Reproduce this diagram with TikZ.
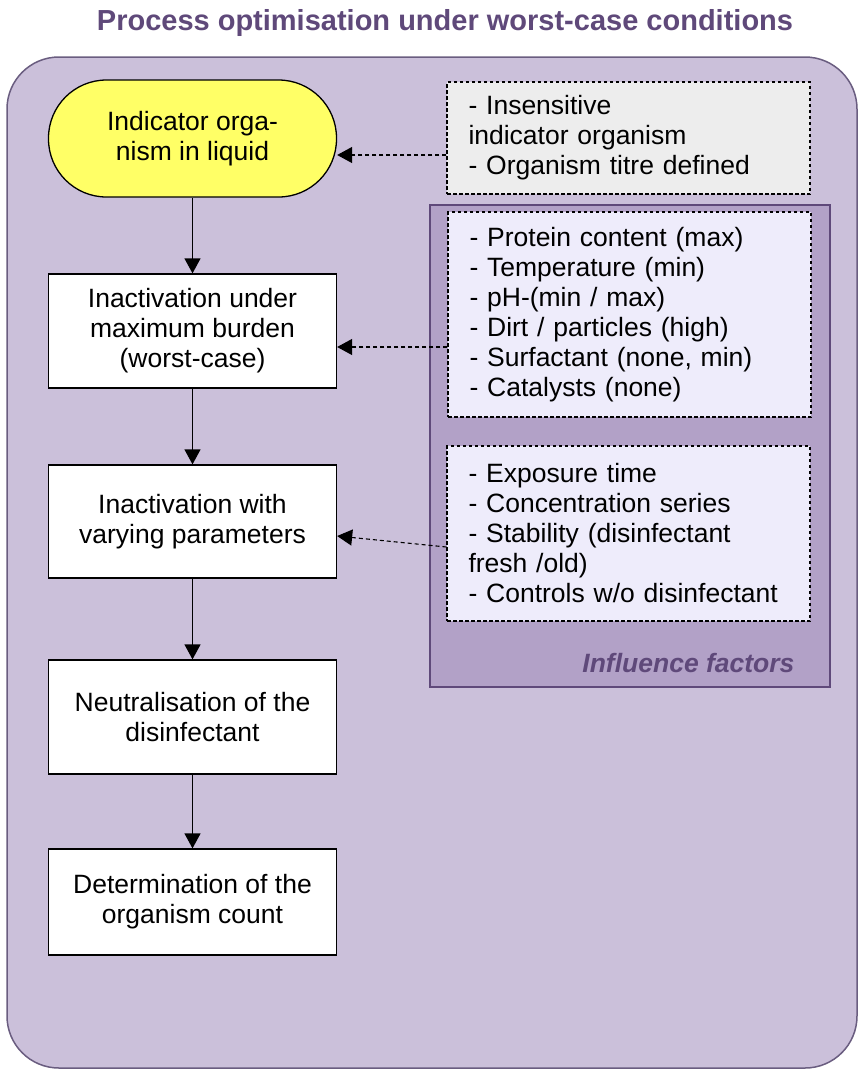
\documentclass[tikz,border=0pt]{standalone}
\usepackage{fontspec}
\setmainfont{Liberation Sans}
\usetikzlibrary{arrows.meta}
\definecolor{frameFill}{HTML}{CBC0DA}
\definecolor{frameLine}{HTML}{6A5D80}
\definecolor{panelFill}{HTML}{B2A1C7}
\definecolor{panelLine}{HTML}{5F497A}
\definecolor{listFill}{HTML}{EEECFB}
\definecolor{greyFill}{HTML}{EDEDED}
\definecolor{yellowFill}{HTML}{FFFF66}
\definecolor{titleCol}{HTML}{5F497A}
\newcommand{\bodyfnt}{\fontsize{26.5pt}{30pt}\selectfont}
\begin{document}
\begin{tikzpicture}[x=1pt,y=-1pt,
  outerframe/.style={draw=frameLine, line width=1.5pt, fill=frameFill, rounded corners=52pt, minimum width=850pt, minimum height=1011pt, inner sep=0pt},
  panelbox/.style={draw=panelLine, line width=2.5pt, fill=panelFill, minimum width=400pt, minimum height=482pt, inner sep=0pt},
  flowbox/.style={draw=black, line width=1.3pt, fill=white, minimum width=288pt, minimum height=114pt, align=center, font=\bodyfnt, inner sep=0pt},
  startbox/.style={flowbox, fill=yellowFill, rounded corners=58pt, minimum height=117pt},
  listbox/.style={draw=black, dash pattern=on 3.5pt off 2.5pt, line width=1.1pt, fill=listFill, align=left, text width=320pt, inner xsep=21pt, inner ysep=0pt, minimum width=363pt, font=\bodyfnt},
  solidarrow/.style={line width=1.3pt, -{Triangle[length=15pt,width=16pt]}},
  dasharrow/.style={line width=1.1pt, dash pattern=on 4pt off 3pt, -{Triangle[length=15pt,width=16pt]}},
  titletext/.style={font=\fontsize{29pt}{32pt}\selectfont\bfseries, text=titleCol},
  paneltext/.style={font=\bodyfnt\bfseries\itshape, text=panelLine}
]
\useasboundingbox (0,0) rectangle (859,1072);

\node[titletext] (title) at (445,23) {Process optimisation under worst-case conditions};

\node[outerframe] (frame) at (432,562.5) {};
\node[panelbox] (panel) at (630,446) {};

\node[listbox, fill=greyFill, minimum height=112pt] (grey) at (628.5,138) {- Insensitive\\indicator organism\\- Organism titre defined};
\node[listbox, minimum height=205pt] (prot) at (629.5,314.5) {- Protein content (max)\\- Temperature (min)\\- pH-(min / max)\\- Dirt / particles (high)\\- Surfactant (none, min)\\- Catalysts (none)};
\node[listbox, minimum height=175pt] (expo) at (628.5,533.5) {- Exposure time\\- Concentration series\\- Stability (disinfectant\\fresh /old)\\- Controls w/o disinfectant};
\node[paneltext, anchor=base east] (plabel) at (798,672) {Influence factors};

\node[startbox] (b1) at (192.5,138.5) {Indicator orga-\\nism in liquid};
\node[flowbox] (b2) at (192.5,331) {Inactivation under\\maximum burden\\(worst-case)};
\node[flowbox, minimum height=113pt] (b3) at (192.5,521.5) {Inactivation with\\varying parameters};
\node[flowbox] (b4) at (192.5,717) {Neutralisation of the\\disinfectant};
\node[flowbox, minimum height=106pt] (b5) at (192.5,902) {Determination of the\\organism count};

\draw[solidarrow] (b1.south) -- (b2.north);
\draw[solidarrow] (b2.south) -- (b3.north);
\draw[solidarrow] (b3.south) -- (b4.north);
\draw[solidarrow] (b4.south) -- (b5.north);

\coordinate (t1) at ([yshift=-16.5pt]b1.east);
\coordinate (t2) at ([yshift=-16pt]b2.east);
\coordinate (t3) at ([yshift=-14.5pt]b3.east);
\coordinate (s3) at ([yshift=-13.5pt]expo.west);
\draw[dasharrow] (grey.west |- t1) -- (t1);
\draw[dasharrow] (prot.west |- t2) -- (t2);
\draw[dasharrow] (s3) -- (t3);
\end{tikzpicture}
\end{document}
